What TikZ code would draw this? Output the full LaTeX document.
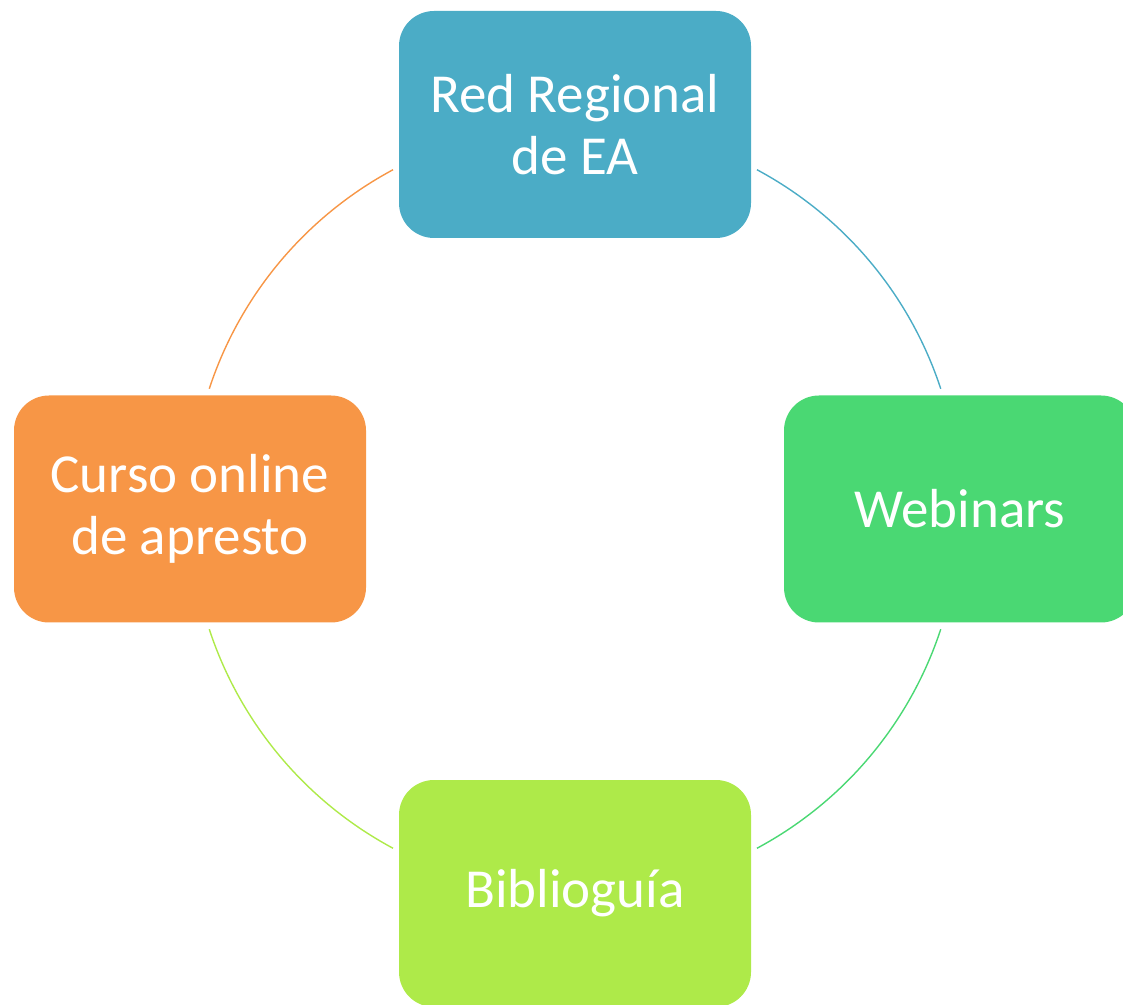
\documentclass[tikz,border=0pt]{standalone}
\usepackage{fontspec}
\setmainfont{Carlito}
\usetikzlibrary{calc}
\definecolor{cblue}{RGB}{75,172,198}
\definecolor{cgreen}{RGB}{74,216,115}
\definecolor{clime}{RGB}{174,234,73}
\definecolor{corange}{RGB}{247,150,70}
\tikzset{
  box/.style={rectangle, rounded corners=35pt, minimum width=352pt, minimum height=227pt,
    inner sep=0pt, text=white, align=center,
    font=\fontsize{55}{62}\selectfont},
  ring/.style={line width=1.4pt}
}
\begin{document}
\begin{tikzpicture}[x=1pt,y=1pt]
\useasboundingbox (0,0) rectangle (1123,1004);
\clip (0,0) rectangle (1123,1004);
\coordinate (c) at (575,495);
\node[box, fill=cblue] (red) at (575,879.5) {Red Regional\\de EA};
\node[box, fill=cgreen] (web) at (960,495) {Webinars};
\node[box, fill=clime] (bib) at (575,110.5) {Biblioguía};
\node[box, fill=corange] (cur) at (190,495) {Curso online\\de apresto};
\coordinate (a1) at ($(c)+(61.8:385)$);
\coordinate (a2) at ($(c)+(-18.2:385)$);
\coordinate (a3) at ($(c)+(-118.2:385)$);
\coordinate (a4) at ($(c)+(161.8:385)$);
\draw[ring, cblue] (a1) arc[start angle=61.8, end angle=18.2, radius=385];
\draw[ring, cgreen] (a2) arc[start angle=-18.2, end angle=-61.8, radius=385];
\draw[ring, clime] (a3) arc[start angle=-118.2, end angle=-161.8, radius=385];
\draw[ring, corange] (a4) arc[start angle=161.8, end angle=118.2, radius=385];
\end{tikzpicture}
\end{document}
